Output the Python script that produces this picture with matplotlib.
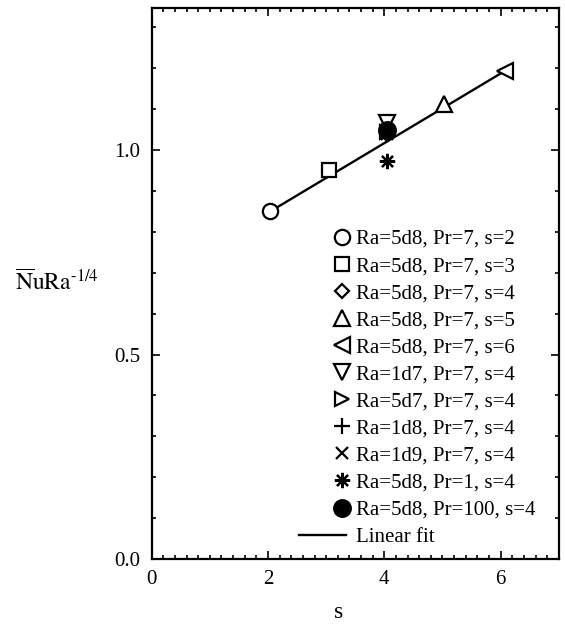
import matplotlib
matplotlib.use("Agg")
import matplotlib.pyplot as plt
from matplotlib.legend_handler import HandlerLine2D
from matplotlib.ticker import MultipleLocator

plt.rcParams["font.family"] = "Liberation Serif"
plt.rcParams["mathtext.fontset"] = "stix"

# data
labels = [
    "Ra=5d8, Pr=7, s=2",
    "Ra=5d8, Pr=7, s=3",
    "Ra=5d8, Pr=7, s=4",
    "Ra=5d8, Pr=7, s=5",
    "Ra=5d8, Pr=7, s=6",
    "Ra=1d7, Pr=7, s=4",
    "Ra=5d7, Pr=7, s=4",
    "Ra=1d8, Pr=7, s=4",
    "Ra=1d9, Pr=7, s=4",
    "Ra=5d8, Pr=1, s=4",
    "Ra=5d8, Pr=100, s=4",
]
s_vals = [2.04, 3.05, 4.05, 5.03, 6.08, 4.05, 4.05, 4.05, 4.05, 4.05, 4.05]
nu_vals = [0.850, 0.950, 1.040, 1.112, 1.194, 1.066, 1.045, 1.040, 1.040, 0.972, 1.049]
markers = ["o", "s", "D", "^", "<", "v", ">", "+", "x", (8, 2, 0), "o"]
filled = [False] * 10 + [True]
sizes = [11, 9.5, 7.5, 11, 11, 11, 10, 11, 9, 11, 12]

fit_s = [2.04, 6.08]
fit_nu = [0.850, 1.194]


class RightMarker(HandlerLine2D):
    # single marker sits at the right end of the handle box
    def get_xdata(self, legend, xdescent, ydescent, width, height, fontsize):
        right = -xdescent + width
        pos = right - 3.5
        return [2 * pos - right, right], [pos]


fig = plt.figure(figsize=(5.65, 6.25), dpi=100)
ax = fig.add_axes([0.2685, 0.1056, 0.7205, 0.8814])

fit_line, = ax.plot(fit_s, fit_nu, color="black", lw=1.7, label="Linear fit", zorder=1)

handles = []
for s, nu, m, f, ms, lab in zip(s_vals, nu_vals, markers, filled, sizes, labels):
    h, = ax.plot([s], [nu], linestyle="none", marker=m, markersize=ms,
                 markerfacecolor="black" if f else "white",
                 markeredgecolor="black", markeredgewidth=1.6,
                 label=lab, zorder=3)
    handles.append(h)
handles.append(fit_line)

handler_map = {h: RightMarker(numpoints=1) for h in handles[:-1]}
leg = ax.legend(handles=handles, loc="lower right", bbox_to_anchor=(0.968, 0.003),
                frameon=False, fontsize=15, handlelength=2.3, handletextpad=0.45,
                labelspacing=0.36, borderpad=0, handler_map=handler_map)

ax.set_xlim(0, 7)
ax.set_ylim(0, 1.347)
ax.set_xticks([0, 2, 4, 6])
ax.set_yticks([0.0, 0.5, 1.0])
ax.set_yticklabels(["0.0", "0.5", "1.0"])
ax.xaxis.set_minor_locator(MultipleLocator(0.2))
ax.yaxis.set_minor_locator(MultipleLocator(0.1))
ax.tick_params(which="both", direction="in", top=True, right=True, width=1.2)
ax.tick_params(which="major", length=6, labelsize=15, pad=8)
ax.tick_params(which="minor", length=3)
for sp in ax.spines.values():
    sp.set_linewidth(1.6)

fig.text(0.027, 0.548, r"$\overline{\mathrm{N}}\mathrm{uRa}^{\text{-1/4}}$",
         fontsize=17, ha="left", va="center")
fig.text(0.6, 0.012, "s", fontsize=17, ha="center", va="baseline")

fig.savefig("out.png", dpi=100)
